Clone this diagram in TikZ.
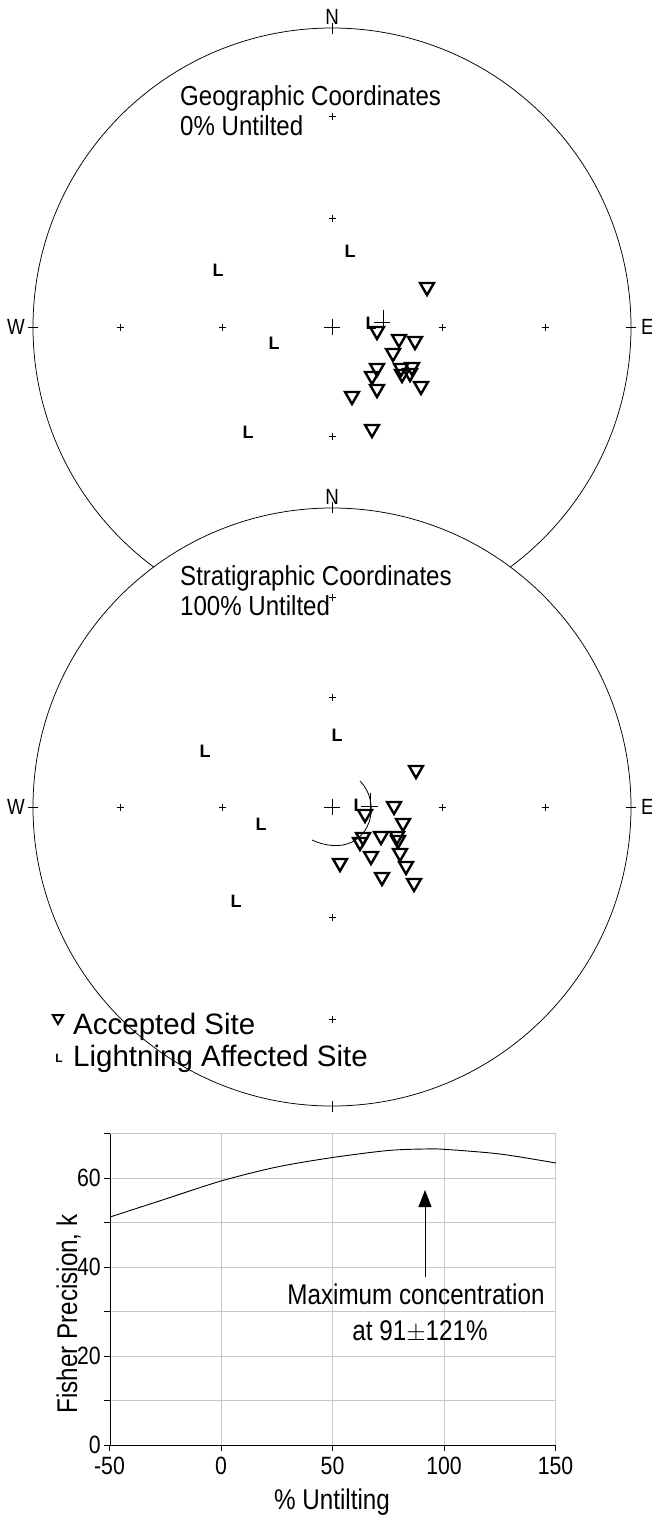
\documentclass[tikz,border=0pt]{standalone}
\usepackage{fontspec}
\setmainfont{Liberation Sans}
\newfontfamily\narrowf[FakeStretch=0.85]{Liberation Sans}
\newfontfamily\netf[FakeStretch=0.875]{Liberation Sans}
\usetikzlibrary{shapes.geometric,arrows.meta,calc}
\newcommand\scr[2]{\draw[line width=0.7pt] (#1-3.5,#2) -- (#1+3.5,#2) (#1,#2-3.5) -- (#1,#2+3.5);}
\newcommand\bcr[2]{\draw[line width=0.7pt] (#1-8,#2) -- (#1+8,#2) (#1,#2-8) -- (#1,#2+8);}
\begin{document}
\begin{tikzpicture}[x=1pt,y=-1pt,
  tri/.style={regular polygon,regular polygon sides=3,shape border rotate=180,draw,line width=2.4pt,minimum size=16pt,inner sep=0pt},
  lsym/.style={inner sep=0pt,font=\fontsize{18}{18}\selectfont\bfseries},
  net/.style={circle,draw,line width=0.75pt,minimum size=598pt,inner sep=0pt,outer sep=0pt},
  nlab/.style={inner sep=0pt,font=\narrowf\fontsize{22}{22}\selectfont},
  ntitle/.style={inner sep=0pt,anchor=base west,font=\netf\fontsize{27.5}{27.5}\selectfont},
  grid/.style={line width=1pt,black!22},
  axis/.style={line width=0.9pt},
  plab/.style={inner sep=0pt,font=\narrowf\fontsize{28.5}{28.5}\selectfont},
  tlab/.style={inner sep=0pt,text height=17.5pt,text depth=0pt,font=\narrowf\fontsize{25}{25}\selectfont}
]
\useasboundingbox (0,0) rectangle (652,1518);
% ---------------- top net ----------------
\node[net] (netA) at (332,327) {};
\draw[line width=0.8pt] (332,23) -- (332,34) (28,327) -- (38,327) (626,327) -- (636,327);
\node[nlab] (nA) at (332,17) {N};
\node[nlab] (wA) at (16,327) {W};
\node[nlab,anchor=west] (eA) at (641,327) {E};
\node[ntitle] (gA) at (180,105) {Geographic Coordinates};
\node[ntitle] (gB) at (180,135) {0\% Untilted};
\scr{332}{116}\scr{332}{218}\scr{332}{436}
\scr{120}{327}\scr{222}{327}\scr{442}{327}\scr{545}{327}
\bcr{332}{327}
% lightning sites
\node[lsym] (la1) at (218,270) {L};
\node[lsym] (la2) at (350,251) {L};
\node[lsym] (la3) at (274,343) {L};
\node[lsym] (la4) at (248,432) {L};
\node[lsym] (la5) at (371,323) {L};
\draw[line width=0.9pt] (374,322) -- (390,322) (383,310) -- (383,330);
% accepted sites
\foreach \n/\x/\y in {1/427/287,2/377/331,3/399/339,4/415/341,5/393/353,6/377/368,7/372/376,
  8/401/368,9/412/367,10/402/374,11/410/373,12/421/386,13/377/389,14/352/396,15/372/429}
  \node[tri] (ta\n) at (\x,\y) {};
% ---------------- bottom net ----------------
\node[net,fill=white] (netB) at (332,807) {};
\draw[line width=0.8pt] (332,502) -- (332,513) (28,807) -- (38,807) (626,807) -- (636,807) (332,1101) -- (332,1112);
\node[nlab] (nB) at (332,497) {N};
\node[nlab] (wB) at (16,807) {W};
\node[nlab,anchor=west] (eB) at (641,807) {E};
\node[ntitle] (sA) at (180,585) {Stratigraphic Coordinates};
\node[ntitle] (sB) at (180,615) {100\% Untilted};
\scr{332}{597}\scr{332}{697}\scr{332}{917}\scr{332}{1019}
\scr{120}{807}\scr{222}{807}\scr{442}{807}\scr{545}{807}
\bcr{332}{807}
\node[lsym] (lb1) at (205,751) {L};
\node[lsym] (lb2) at (337,735) {L};
\node[lsym] (lb3) at (261,824) {L};
\node[lsym] (lb4) at (236,901) {L};
\node[lsym] (lb5) at (359,805) {L};
\draw[line width=0.9pt] (361,806) -- (378,806) (370,793) -- (370,814);
\draw[line width=0.8pt] (360,781) .. controls (377,798) and (375,830) .. (352,842)
  .. controls (340,848) and (325,846) .. (312,840);
\foreach \n/\x/\y in {1/416/770,2/394/806,3/365/814,4/403/823,5/363/837,6/360/842,7/381/836,
  8/397/836,9/398/840,10/371/856,11/400/853,12/406/866,13/340/863,14/382/877,15/414/883}
  \node[tri] (tb\n) at (\x,\y) {};
% legend
\node[tri,minimum size=12pt,line width=2pt] (legT) at (58,1018) {};
\node[lsym,font=\fontsize{12}{12}\selectfont\bfseries] (legL) at (59,1058) {L};
\node[inner sep=0pt,anchor=base west,font=\fontsize{29.5}{29.5}\selectfont] (legA) at (73,1034) {Accepted Site};
\node[inner sep=0pt,anchor=base west,font=\fontsize{29.5}{29.5}\selectfont] (legB) at (73,1066) {Lightning Affected Site};
% ---------------- plot ----------------
% X(u)=221+2.23u ; Y(k)=1445-4.45k
\foreach \k in {10,20,...,70} \draw[grid] (110,1445-4.45*\k) -- (556,1445-4.45*\k);
\foreach \u in {0,50,100,150} \draw[grid] (221+2.23*\u,1134) -- (221+2.23*\u,1445);
\draw[axis] (110,1134) -- (110,1445) -- (556,1445);
\foreach \k in {0,10,...,70} \draw[axis] (104,1445-4.45*\k) -- (110,1445-4.45*\k);
\foreach \u in {-50,0,50,100,150} \draw[axis] (221+2.23*\u,1445) -- (221+2.23*\u,1451);
\foreach \k in {0,20,40,60} \node[tlab,anchor=east] (yl\k) at (101,1445-4.45*\k) {\k};
\foreach \u/\nm in {-50/m,0/a,50/b,100/c,150/d} \node[tlab,anchor=north] (xl\nm) at (221+2.23*\u,1457) {\u};
\draw[line width=0.9pt] plot[smooth] coordinates {
 (110,1217) (165.5,1199) (221,1181) (276.8,1167) (332.5,1157.5) (388,1150.5) (424,1149) (444,1149.3) (500,1154) (556,1163)};
\coordinate (arT) at (425,1190);
\coordinate (arB) at (425,1277);
\draw[line width=1pt,-{Triangle[length=17pt,width=13pt]}] (arB) -- (arT);
\node[plab,anchor=base] (mx1) at (416,1304) {Maximum concentration};
\node[plab,anchor=base] (mx2) at (420,1340) {at 91$\pm$121\%};
\node[plab,anchor=base] (xt) at (332,1509) {\% Untilting};
\node[plab,anchor=base,rotate=90] (yt) at (77,1314) {Fisher Precision, k};
\end{tikzpicture}
\end{document}
